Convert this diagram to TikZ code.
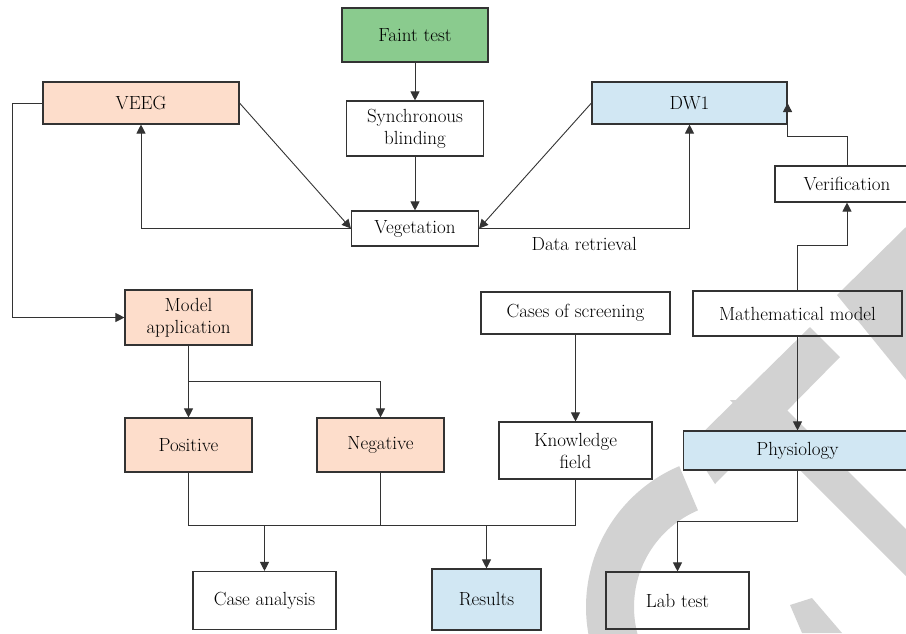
\documentclass[tikz,border=0pt]{standalone}
\usetikzlibrary{arrows.meta}
\definecolor{faintgreen}{HTML}{8ACB8E}
\definecolor{peach}{HTML}{FDDDCB}
\definecolor{paleblue}{HTML}{D1E7F3}
\definecolor{edge}{HTML}{333333}
\definecolor{wmark}{HTML}{D2D2D2}
\begin{document}
\begin{tikzpicture}[x=1pt,y=-1pt,
	box/.style={draw=edge,line width=1.1pt,align=center,inner sep=0pt,text=black,font=\fontsize{19}{22}\selectfont},
	ln/.style={draw=edge,line width=0.9pt},
	arr/.style={ln,-{Triangle[length=9pt,width=9pt]}}]
		\useasboundingbox (0,0) rectangle (906,633);
		\fill[wmark] (739,607) ++(150:153) arc[start angle=150,end angle=247,radius=153] -- ++(67:48) arc[start angle=247,end angle=150,radius=105] -- cycle;
		\fill[wmark] (906,227) -- (837,295) -- (906,380) -- cycle;
		\fill[wmark] (810,327) -- (840,357) -- (715,484) -- (690,445) -- cycle;
		\fill[wmark] (730,400) -- (777,400) -- (906,529) -- (906,576) -- cycle;
		\fill[wmark] (790,605) -- (812,598) -- (842,633) -- (802,633) -- cycle;
		\node[box,fill=faintgreen,minimum width=146pt,minimum height=54pt] (faint) at (415,35) {Faint test};
		\node[box,minimum width=137pt,minimum height=55pt] (sync) at (415,128.5) {Synchronous\\blinding};
		\node[box,fill=peach,minimum width=196pt,minimum height=42pt] (veeg) at (141,103) {VEEG};
		\node[box,minimum width=127pt,minimum height=35pt] (veg) at (415,228.5) {Vegetation};
		\node[box,fill=paleblue,minimum width=195pt,minimum height=42pt] (dw) at (689.5,103) {DW1};
		\node[box,minimum width=144pt,minimum height=36pt] (verif) at (847,184) {Verification};
		\node[box,fill=peach,minimum width=127pt,minimum height=55pt] (model) at (188.5,317.5) {Model\\application};
		\node[box,fill=peach,minimum width=127pt,minimum height=54pt] (pos) at (188.5,445) {Positive};
		\node[box,fill=peach,minimum width=127pt,minimum height=54pt] (neg) at (380.5,445) {Negative};
		\node[box,minimum width=189pt,minimum height=42pt] (screen) at (575.5,313) {Cases of screening};
		\node[box,minimum width=209pt,minimum height=45pt] (math) at (797.5,313.5) {Mathematical model};
		\node[box,minimum width=153pt,minimum height=57pt] (know) at (575.5,450.5) {Knowledge\\field};
		\node[box,fill=paleblue,minimum width=228pt,minimum height=39pt] (physio) at (797.5,450.5) {Physiology};
		\node[box,minimum width=143pt,minimum height=58pt] (case) at (264.5,600.5) {Case analysis};
		\node[box,fill=paleblue,minimum width=109pt,minimum height=61pt] (res) at (486.5,599.5) {Results};
		\node[box,minimum width=143pt,minimum height=57pt] (lab) at (677.5,600.5) {Lab test};
		\draw[arr] (faint) -- (sync);
		\draw[arr] (sync) -- (veg);
		\draw[arr] (veeg.east) -- (veg.west);
		\draw[arr] (veg.west) -| (veeg.south);
		\draw[arr] (dw.west) -- (veg.east);
		\draw[arr] (veg.east) -| node[pos=0.25,below=8pt,inner sep=0pt,font=\fontsize{19}{22}\selectfont] (retr) {Data retrieval} (dw.south);
		\draw[arr] (veeg.west) -- ++(-30,0) |- (model.west);
		\draw[ln] (model.south) -- ++(0,36) coordinate (split);
		\draw[arr] (split) -- (pos.north);
		\draw[arr] (split) -| (neg.north);
		\draw[ln] (pos.south) -- ++(0,53) coordinate (bus) -| (know.south);
		\draw[ln] (neg.south) -- (neg.south |- bus);
		\draw[arr] (case.north |- bus) -- (case.north);
		\draw[arr] (res.north |- bus) -- (res.north);
		\draw[arr] (screen) -- (know);
		\draw[arr] (math.south) -- (math.south |- physio.north);
		\draw[arr] (math.north) -- ++(0,-45) -| (verif.south);
		\draw[arr] (verif.north) -- ++(0,-29) -| (dw.east);
		\draw[arr] (physio.south) -- ++(0,51) -| (lab.north);
\end{tikzpicture}
\end{document}
